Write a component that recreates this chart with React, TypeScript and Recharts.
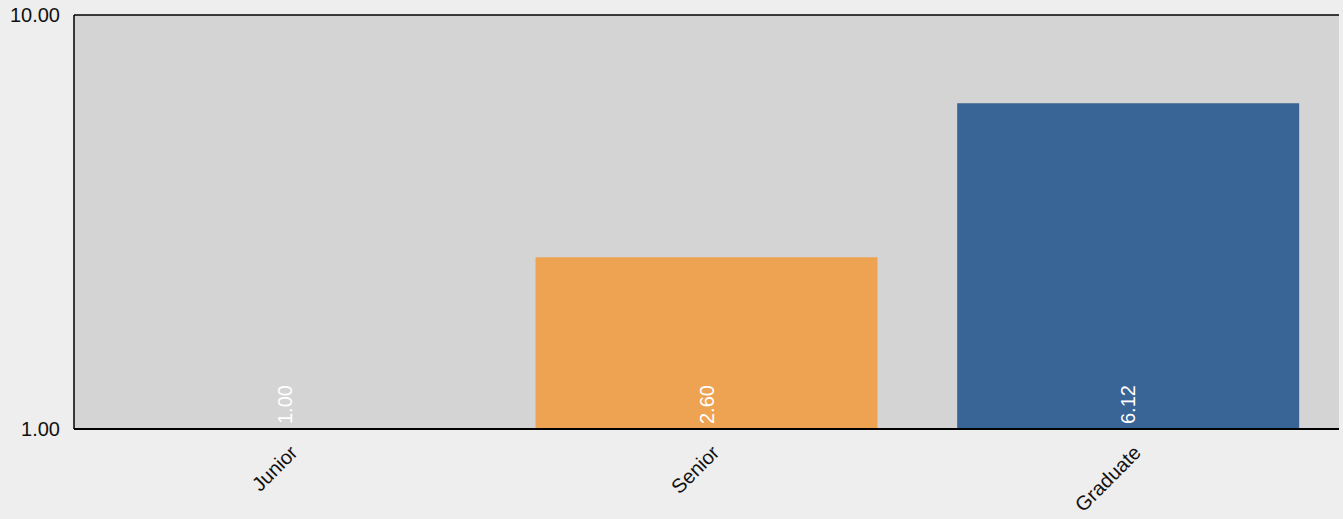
import React from 'react';
import {
  BarChart,
  Bar,
  XAxis,
  YAxis,
  CartesianGrid,
  ReferenceLine,
  LabelList,
  Cell,
} from 'recharts';

const categories = ['Junior', 'Senior', 'Graduate'];
const values = [1.0, 2.6, 6.12];
const barColors = ['#386496', '#EEA353', '#386496'];
const yTicks = [1, 10];

const data = categories.map((name, i) => ({ name, value: values[i] }));

const FONT = '"Liberation Sans", Arial, sans-serif';

const XTick = (props: any) => {
  const { x, payload } = props;
  const ax = x + 14;
  const ay = 454;
  return (
    <text
      x={ax}
      y={ay}
      transform={`rotate(-45, ${ax}, ${ay})`}
      textAnchor="end"
      fontSize={20}
      fontFamily={FONT}
      fill="#111"
    >
      {payload.value}
    </text>
  );
};

const YTick = (props: any) => {
  const { y, payload } = props;
  return (
    <text
      x={60}
      y={y}
      textAnchor="end"
      dominantBaseline="central"
      fontSize={20}
      fontFamily={FONT}
      fill="#111"
    >
      {Number(payload.value).toFixed(2)}
    </text>
  );
};

const BarLabel = (props: any) => {
  const { x, y, width, height, value } = props;
  const cx = Number(x) + Number(width) / 2;
  const by = Number(y) + Number(height) - 5;
  return (
    <text
      x={cx}
      y={by}
      transform={`rotate(-90, ${cx}, ${by})`}
      textAnchor="start"
      dominantBaseline="central"
      fontSize={20}
      fontFamily={FONT}
      fill="#ffffff"
    >
      {Number(value).toFixed(2)}
    </text>
  );
};

const App: React.FC = () => {
  return (
    <div style={{ width: 1343, height: 519, background: '#eeeeee' }}>
      <style>{`body{margin:0;background:#eeeeee}`}</style>
      <BarChart
        width={1343}
        height={519}
        data={data}
        margin={{ top: 15, right: 4, bottom: 0, left: 0 }}
        barCategoryGap="9.45%"
      >
        <CartesianGrid fill="#d4d4d4" stroke="none" horizontal={false} vertical={false} />
        <XAxis
          dataKey="name"
          height={90}
          tickLine={false}
          axisLine={{ stroke: '#000', strokeWidth: 2 }}
          tick={<XTick />}
          interval={0}
        />
        <YAxis
          yAxisId="l"
          scale="log"
          domain={[1, 10]}
          ticks={yTicks}
          width={74}
          tickLine={false}
          axisLine={{ stroke: '#000', strokeWidth: 1.5 }}
          tick={<YTick />}
          allowDataOverflow
        />
        <YAxis
          yAxisId="r"
          orientation="right"
          width={0}
          tick={false}
          tickLine={false}
          axisLine={{ stroke: '#777', strokeWidth: 1.5 }}
        />
        <ReferenceLine yAxisId="l" y={10} stroke="#000" strokeWidth={1.5} />
        <Bar yAxisId="l" dataKey="value" minPointSize={1} isAnimationActive={false}>
          {data.map((d, i) => (
            <Cell key={d.name} fill={barColors[i]} />
          ))}
          <LabelList dataKey="value" content={<BarLabel />} />
        </Bar>
      </BarChart>
    </div>
  );
};

export default App;
